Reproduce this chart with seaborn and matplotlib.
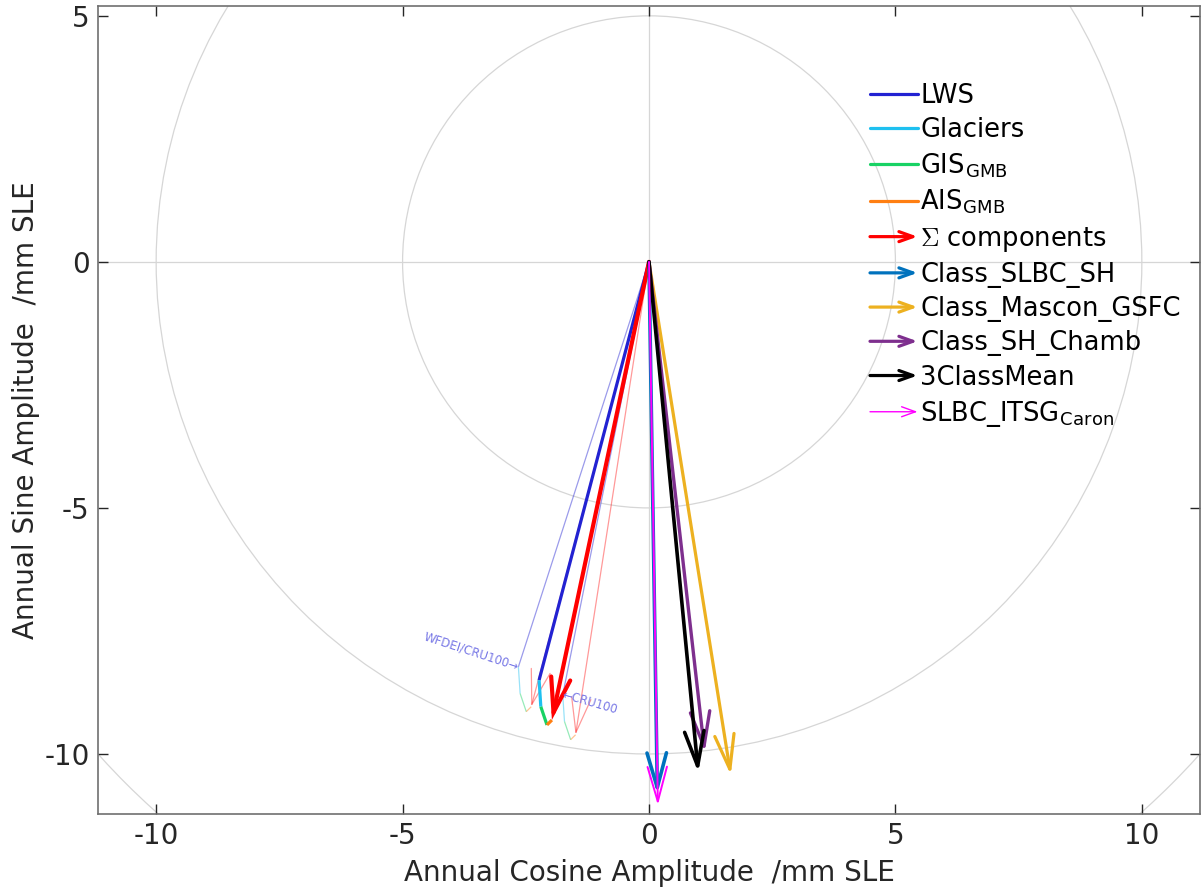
import numpy as np
import pandas as pd
import matplotlib
matplotlib.use("Agg")
import matplotlib.pyplot as plt
import seaborn as sns
from matplotlib.patches import FancyArrowPatch, Circle
from matplotlib.lines import Line2D
from matplotlib.legend_handler import HandlerBase

# Annual cycle phasors (cosine, sine amplitude) in mm SLE
component_names = ["LWS", "Glaciers", "GIS", "AIS"]
component_labels = ["LWS", "Glaciers", r"GIS$_{\mathregular{GMB}}$", r"AIS$_{\mathregular{GMB}}$"]
component_colors = ["#2222d2", "#1ec0f0", "#18d264", "#ff7f12"]

lws_main = (-2.23, -8.50)
lws_wfdei = (-2.65, -8.23)
lws_cru100 = (-1.75, -8.80)
glaciers = (0.035, -0.54)
gis = (0.125, -0.37)
ais = (0.10, 0.10)

grace_labels = ["Class_SLBC_SH", "Class_Mascon_GSFC", "Class_SH_Chamb",
                "3ClassMean", r"SLBC_ITSG$_{\mathregular{Caron}}$"]
grace_cos = [0.17, 1.66, 1.13, 1.00, 0.18]
grace_sin = [-10.82, -10.43, -9.97, -10.38, -11.04]
grace_colors = ["#0072BD", "#EDB120", "#7E2F8E", "#000000", "#FF00FF"]
grace_widths = [2.6, 2.3, 2.4, 2.6, 1.4]

sum_label = r"$\Sigma$ components"
sum_color = "#ff0000"

circle_radii = [5, 10, 15]
x_ticks = [-10, -5, 0, 5, 10]
y_ticks = [-10, -5, 0, 5]

sns.set_theme(style="white")
plt.rcParams["font.family"] = ["DejaVu Sans"]
plt.rcParams["mathtext.fontset"] = "cm"
plt.rcParams["axes.unicode_minus"] = False

TXT = "#262626"
GRID = "#d6d6d6"

fig = plt.figure(figsize=(12.01, 8.92), dpi=100)
ax = fig.add_axes([98 / 1201, 1 - 814 / 892, 1102 / 1201, 808 / 892])

# reference circles and axes through the origin
for r in circle_radii:
    ax.add_patch(Circle((0, 0), r, fill=False, ec=GRID, lw=0.9, zorder=0))
ax.axhline(0, color=GRID, lw=0.9, zorder=0)
ax.axvline(0, color=GRID, lw=0.9, zorder=0)


def arrow(ax, start, end, color, lw, alpha=1.0, hl=25, hw=7, z=3):
    a = FancyArrowPatch(start, end,
                        arrowstyle=f"->,head_length={hl},head_width={hw}",
                        mutation_scale=1, color=color, lw=lw, alpha=alpha,
                        shrinkA=0, shrinkB=0, zorder=z, capstyle="round",
                        joinstyle="miter")
    ax.add_patch(a)
    return a


def chain(ax, lws, lw, alpha, z):
    parts = [lws, glaciers, gis, ais]
    pts = np.vstack([[0.0, 0.0], np.cumsum(np.array(parts), axis=0)])
    for i, c in enumerate(component_colors):
        seg = pd.DataFrame({"x": pts[i:i + 2, 0], "y": pts[i:i + 2, 1]})
        sns.lineplot(data=seg, x="x", y="y", sort=False, estimator=None,
                     color=c, lw=lw, alpha=alpha, ax=ax, zorder=z,
                     solid_capstyle="butt")
    return pts


# alternative hydrology forcings (thin)
for lws in (lws_wfdei, lws_cru100):
    pts = chain(ax, lws, 0.9, 0.45, 2)
    arrow(ax, (0, 0), tuple(pts[-1]), sum_color, 0.9, alpha=0.4, z=2)

# main budget
pts = chain(ax, lws_main, 2.3, 1.0, 3)
arrow(ax, (0, 0), tuple(pts[-1]), sum_color, 3.0, z=4)

# GRACE estimates
for cx, sy, col, w in zip(grace_cos, grace_sin, grace_colors, grace_widths):
    arrow(ax, (0, 0), (cx, sy), col, w, z=5)

ax.text(lws_wfdei[0], lws_wfdei[1], "WFDEI/CRU100\u2192", color="#7878e6",
        fontsize=8.5, rotation=-18, rotation_mode="anchor",
        ha="right", va="center", zorder=6)
ax.text(lws_cru100[0], lws_cru100[1], "\u2190CRU100", color="#7878e6",
        fontsize=8.5, rotation=-16, rotation_mode="anchor",
        ha="left", va="center", zorder=6)

ax.set_xticks(x_ticks)
ax.set_yticks(y_ticks)
ax.set_xlim(-11.18, 11.18)
ax.set_ylim(-11.22, 5.2)
ax.tick_params(direction="in", length=7, width=1.0, colors=TXT,
               labelsize=20, top=True, right=True, bottom=True, left=True,
               pad=6)
for s in ax.spines.values():
    s.set_color("#707070")
    s.set_linewidth(1.2)
ax.set_xlabel("Annual Cosine Amplitude  /mm SLE", fontsize=20, color=TXT,
              labelpad=6)
ax.set_ylabel("Annual Sine Amplitude  /mm SLE", fontsize=20, color=TXT,
              labelpad=3)


class ArrowHandler(HandlerBase):
    def create_artists(self, legend, orig, xdescent, ydescent, width, height,
                       fontsize, trans):
        y = height / 2 - ydescent
        a = FancyArrowPatch((-xdescent, y), (width - xdescent, y),
                            arrowstyle="->,head_length=10,head_width=3.6",
                            mutation_scale=1, color=orig.get_edgecolor(),
                            lw=orig.get_linewidth(), shrinkA=0, shrinkB=0,
                            transform=trans)
        return [a]


handles, labels = [], []
for lab, col in zip(component_labels, component_colors):
    handles.append(Line2D([], [], color=col, lw=2.3))
    labels.append(lab)
handles.append(FancyArrowPatch((0, 0), (1, 1), color=sum_color, lw=2.3))
labels.append(sum_label)
for lab, col, w in zip(grace_labels, grace_colors, grace_widths):
    handles.append(FancyArrowPatch((0, 0), (1, 1), color=col,
                                   lw=2.3 if w > 2 else 1.0))
    labels.append(lab)

leg = ax.legend(handles, labels, handler_map={FancyArrowPatch: ArrowHandler()},
                loc="upper left", bbox_to_anchor=((870 - 98) / 1102, 1 - (83 - 6) / 808),
                frameon=False, fontsize=18.5, handlelength=1.85,
                handletextpad=0.1, labelspacing=0.32, borderpad=0,
                borderaxespad=0)
for t in leg.get_texts():
    t.set_color("black")

fig.savefig("out.png", dpi=100)
